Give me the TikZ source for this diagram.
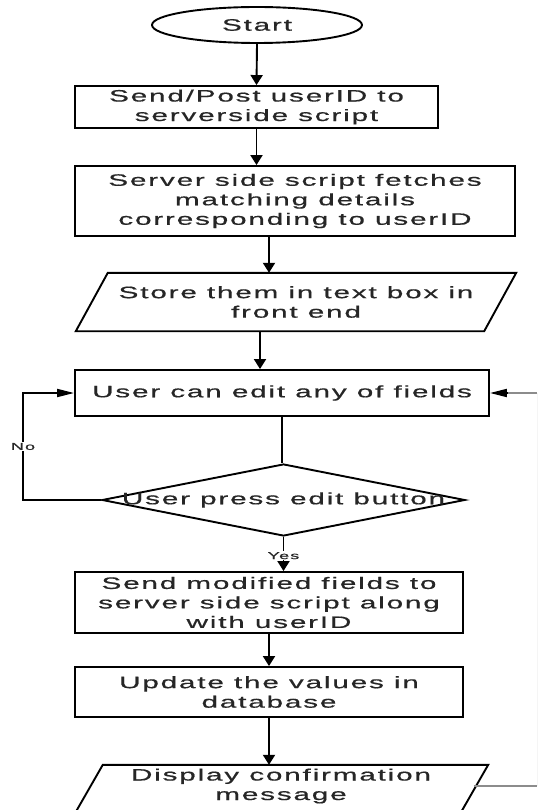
\documentclass[tikz,border=0pt]{standalone}
\usepackage{fontspec}
\setmainfont{Liberation Sans}[FakeStretch=1.8,LetterSpace=11,FakeBold=0.6]
\usetikzlibrary{arrows.meta,shapes.geometric}

\begin{document}
\begin{tikzpicture}[x=1pt,y=-1pt,
  every node/.style={text=black!85, align=center,
    font=\fontsize{16.5}{19.5}\selectfont},
  box/.style={draw, line width=1.9pt, fill=white, inner sep=0pt},
  textonly/.style={inner sep=0pt},
  outline/.style={draw, line width=1.9pt},
  small/.style={font=\fontsize{10}{12}\selectfont, fill=white, inner sep=1pt},
  vflow/.style={line width=1.9pt, -{Triangle[length=10pt,width=12pt]}},
  hflow/.style={line width=1.9pt, -{Triangle[length=17pt,width=8pt]}},
  plain/.style={line width=1.9pt},
  backline/.style={line width=1.5pt, draw=black!45},
]
\fill[white] (0,0) rectangle (539,810);
\useasboundingbox (0,0) rectangle (539,810);
\clip (0,0) rectangle (539,810);

% terminal
\node[box, ellipse, minimum width=210pt, minimum height=36pt] (start) at (257,25) {Start};

% process steps
\node[box, minimum width=363pt, minimum height=42pt] (send) at (256.5,107)
  {Send/Post userID to\\serverside script};
\node[box, minimum width=440pt, minimum height=70pt] (fetch) at (295,201)
  {Server side script fetches\\matching details\\corresponding to userID};

% input/output: store
\node[textonly, minimum width=408pt, minimum height=58pt] (store) at (296,302)
  {Store them in text box in\\front end};
\draw[outline] ([xshift=16pt]store.north west) -- ([xshift=16pt]store.north east)
  -- ([xshift=-16pt]store.south east) -- ([xshift=-16pt]store.south west) -- cycle;

\node[box, minimum width=414pt, minimum height=46pt] (edit) at (282,393)
  {User can edit any of fields};

% decision
\node[draw, diamond, line width=1.9pt, inner sep=0pt, minimum width=363pt,
  minimum height=72pt, label={center:User press edit button}] (press) at (283.5,500) {};

\node[box, minimum width=388pt, minimum height=61pt] (sendmod) at (269,602.5)
  {Send modified fields to\\server side script along\\with userID};
\node[box, minimum width=388pt, minimum height=50pt] (update) at (269,692)
  {Update the values in\\database};

% input/output: display
\node[textonly, minimum width=385pt, minimum height=42pt] (display) at (281,786)
  {Display confirmation\\message};
\draw[outline] ([xshift=14.5pt]display.north west) -- ([xshift=14.5pt]display.north east)
  -- ([xshift=-23pt,yshift=-23pt]display.south east)
  -- ([xshift=-23pt,yshift=-23pt]display.south west) -- cycle;

% main flow
\draw[vflow] (start.south) -- (send.north);
\draw[vflow] (send.south) -- (send.south |- fetch.north);
\draw[vflow] ([xshift=-26pt]fetch.south) -- ([xshift=-26pt]fetch.south |- store.north);
\draw[vflow] ([xshift=-36pt]store.south) -- ([xshift=-36pt]store.south |- edit.north);
\draw[plain] (edit.south) -- (edit.south |- press.north);
\draw[vflow] (press.south) -- node[small, pos=0.55] (yes) {Yes} (press.south |- sendmod.north);
\draw[vflow] (sendmod.south) -- (update.north);
\draw[vflow] (update.south) -- (update.south |- display.north);

% "No" loop back to editing
\coordinate (nob) at (23,500);
\coordinate (not) at (23,393);
\draw[hflow] (press.west) -- (nob) -- node[small] (no) {No} (not) -- (edit.west);

% return from confirmation back to editing
\coordinate (rb) at (537,786);
\coordinate (rt) at (537,393);
\draw[backline] (display.east) -- (rb);
\draw[line width=0.6pt, draw=black!4] (rb) -- (rt);
\draw[backline] (rt) -- ([xshift=18pt]edit.east);
\draw[hflow] ([xshift=18pt]edit.east) -- (edit.east);
\end{tikzpicture}
\end{document}
